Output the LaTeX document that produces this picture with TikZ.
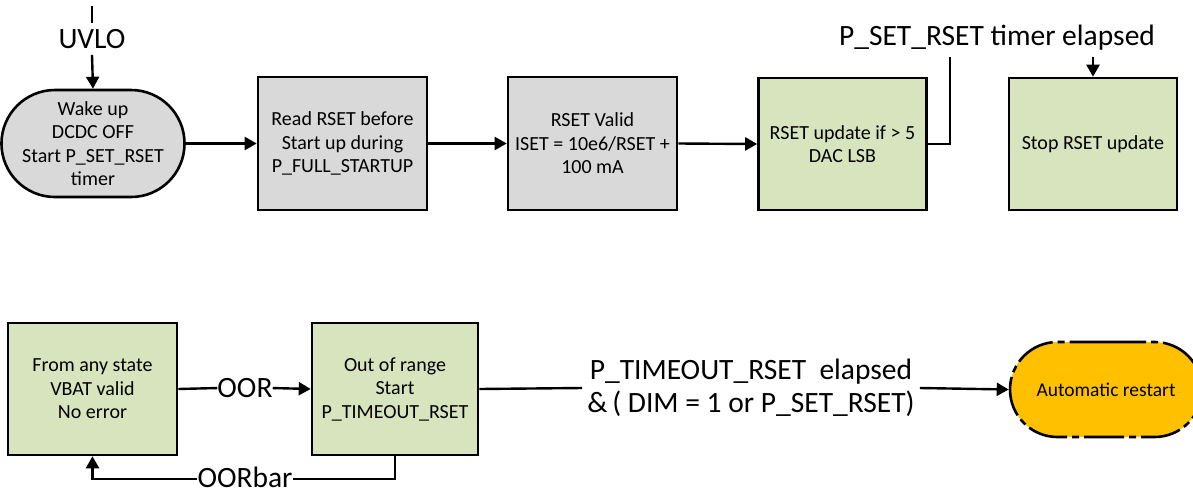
\documentclass[tikz,border=0pt]{standalone}
\usepackage{fontspec}
\setmainfont{Carlito}
\usetikzlibrary{shapes.misc,arrows.meta}
\definecolor{greyfill}{HTML}{D9D9D9}
\definecolor{greenfill}{HTML}{D7E4BD}
\definecolor{orangefill}{HTML}{FFC000}
\tikzset{
  box/.style={draw=black, line width=2.6pt, inner sep=0pt, align=center,
    font=\fontsize{20}{23.5}\selectfont},
  greybox/.style={box, fill=greyfill, minimum width=169pt, minimum height=133pt},
  greenbox/.style={box, fill=greenfill, minimum width=168pt, minimum height=132pt},
  biglbl/.style={inner sep=0pt, font=\fontsize{29.5}{33}\selectfont, align=center},
  conn/.style={line width=2.4pt},
  arr/.style={conn, -{Triangle[length=12pt,width=13pt]}}
}
\begin{document}
\begin{tikzpicture}[x=1pt,y=-1pt]
\useasboundingbox (0,0) rectangle (1193,493);
% top row
\node[box, rounded rectangle, fill=greyfill, minimum width=170pt, minimum height=107pt] (wake) at (93,143.5) {Wake up\\DCDC OFF\\Start P\_SET\_RSET\\timer};
\node[greybox] (read) at (342.5,143.5) {Read RSET before\\Start up during\\P\_FULL\_STARTUP};
\node[greybox] (valid) at (592.5,143.5) {RSET Valid\\ISET = 10e6/RSET +\\100 mA};
\node[greenbox] (upd) at (842.5,144) {RSET update if > 5\\DAC LSB};
\node[greenbox] (stop) at (1093,144) {Stop RSET update};
\node[biglbl, inner ysep=6pt, anchor=base] (uvlo) at (92,48.5) {UVLO};
\coordinate (uvlotop) at (92,6);
\node[biglbl, anchor=base] (timer) at (997,45.5) {P\_SET\_RSET timer elapsed};
\coordinate (tj) at (950,57);
% bottom row
\node[greenbox, minimum width=169pt] (anyst) at (92.5,389) {From any state\\VBAT valid\\No error};
\node[greenbox, minimum width=166pt] (oor) at (395,389) {Out of range\\Start\\P\_TIMEOUT\_RSET};
\node[box, rounded rectangle, fill=orangefill, minimum width=192pt, minimum height=95pt,
  dash pattern=on 40pt off 5pt on 7pt off 5pt, font=\fontsize{19.5}{22}\selectfont] (auto) at (1106,389.5) {Automatic restart};
\node[biglbl, anchor=base] (oorl) at (245,397.5) {OOR};
\node[biglbl, anchor=base] (oorbar) at (245,487.5) {OORbar};
\node[biglbl, inner sep=5pt] (tmo) at (751,388) {P\_TIMEOUT\_RSET\ \ elapsed\\\&\,( DIM = 1 or P\_SET\_RSET)};
% connectors top
\draw[conn] (uvlotop) -- (uvlo.north);
\draw[arr] (uvlo.south) -- (wake.north);
\draw[arr] (wake.east) -- (read.west);
\draw[arr] (read.east) -- (valid.west);
\draw[arr] (valid.east) -- (upd.west);
\draw[conn] (upd.east) -| (tj);
\draw[arr] (stop.north |- tj) -- (stop.north);
% connectors bottom
\draw[conn] (anyst.east) -- (oorl.west);
\draw[arr] (oorl.east) -- (oor.west);
\draw[conn] (oor.south) |- ([yshift=-1.5pt]oorbar.east);
\draw[arr] ([yshift=-1.5pt]oorbar.west) -| (anyst.south);
\draw[conn] (oor.east) -- (tmo.west);
\draw[arr] (tmo.east) -- (auto.west);
\end{tikzpicture}
\end{document}
